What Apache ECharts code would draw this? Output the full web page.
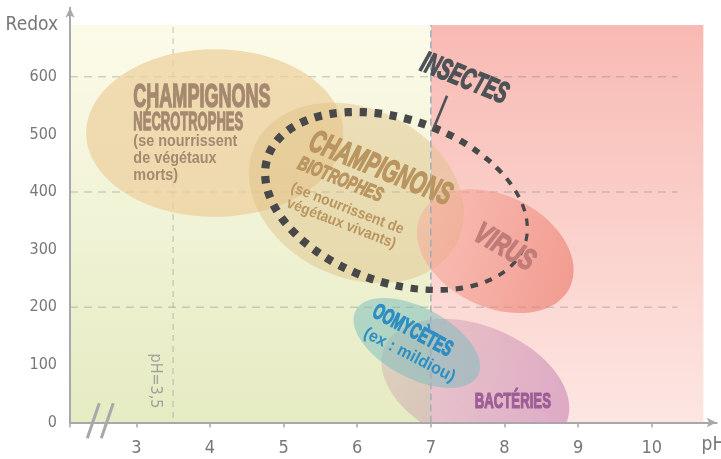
<!DOCTYPE html>
<html><head><meta charset="utf-8">
<script src="https://cdn.jsdelivr.net/npm/echarts@6/dist/echarts.min.js"></script>
<style>html,body{margin:0;padding:0;background:#fff}#c{width:721px;height:459px}</style>
</head><body><div id="c"></div>
<script>
// ---------------- data ----------------
const phTicks = [3, 4, 5, 6, 7, 8, 9, 10];
const phTickMarks = [2.1, 3, 4, 5, 6, 7, 8, 9, 10];
const redoxTicks = [0, 100, 200, 300, 400, 500, 600];
const redoxGridLines = [200, 400, 600];

const zoneNames = ['acide', 'neutre/basique'];
const zonePhMin = [2.1, 7];
const zonePhMax = [7, 10.7];
const zoneRedoxMax = [690, 690];

// organism groups : pH range, redox range, tilt of the zone (degrees)
const groupNames = ['Champignons nécrotrophes', 'Champignons biotrophes', 'Virus', 'Bactéries', 'Oomycètes'];
const groupPhMin = [2.32, 4.53, 6.81, 6.33, 5.95];
const groupPhMax = [5.81, 7.45, 8.94, 8.88, 7.67];
const groupRedoxMin = [357, 242, 190, -50, 60];
const groupRedoxMax = [648, 555, 405, 180, 216];
const groupTilt = [0, 25.6, 26, 22, 28];

// insects (dotted outline)
const insectPhRange = [4.75, 8.31];
const insectRedoxRange = [230, 539];
const insectTilt = [19];
const insectPointerPh = [7.22, 7.03];
const insectPointerRedox = [567, 508];

// reference lines
const refLinePh = [3.5, 7];

// labels
const labelTexts = ['CHAMPIGNONS', 'NÉCROTROPHES', '(se nourrissent', 'de végétaux', 'morts)',
  'CHAMPIGNONS', 'BIOTROPHES', '(se nourrissent de', 'végétaux vivants)',
  'INSECTES', 'VIRUS', 'OOMYCÈTES', '(ex : mildiou)', 'BACTÉRIES', 'pH=3,5'];
const labelPh = [2.96, 2.96, 2.96, 2.96, 2.96, 6.313, 5.77, 5.865, 5.784, 7.454, 7.997, 6.748, 6.707, 8.113, 3.258];
const labelRedox = [564, 521, 488, 458, 429, 440, 421, 371, 345, 596, 303, 159, 117, 36, 72];

// ---------------- styles ----------------
const LS = "'Liberation Sans', Arial, sans-serif";
const AX = "'DejaVu Sans Condensed', 'Liberation Sans Narrow', 'DejaVu Sans', sans-serif";
const labelKind = ['nT', 'nS', 'nB', 'nB', 'nB', 'bT', 'bS', 'bB', 'bB', 'ins', 'vir', 'oT', 'oB', 'bac', 'ref'];
const kindStyle = {
  nT: { font: 'bold 34px ' + LS, fill: '#a5896f', sx: 0.53, rot: 0, align: 'left', bold: 1.6 },
  nS: { font: 'bold 26px ' + LS, fill: '#a5896f', sx: 0.5, rot: 0, align: 'left', bold: 1.3 },
  nB: { font: 'bold 16px ' + LS, fill: '#a5896f', sx: 0.9, rot: 0, align: 'left', bold: 0 },
  bT: { font: 'italic bold 32px ' + LS, fill: '#b9955f', sx: 0.62, rot: 22, align: 'center', bold: 1.6 },
  bS: { font: 'italic bold 20px ' + LS, fill: '#b9955f', sx: 0.68, rot: 22, align: 'center', bold: 1.1 },
  bB: { font: 'bold 15px ' + LS, fill: '#b9955f', sx: 0.92, rot: 21, align: 'center', bold: 0 },
  ins: { font: 'italic bold 30px ' + LS, fill: '#4d5256', sx: 0.61, rot: 22, align: 'center', bold: 1.5 },
  vir: { font: 'italic bold 30px ' + LS, fill: '#c07c78', sx: 0.71, rot: 30, align: 'center', bold: 1.5 },
  oT: { font: 'bold 22px ' + LS, fill: '#2c8dc2', sx: 0.62, rot: 28, align: 'center', bold: 1.2 },
  oB: { font: 'bold 17px ' + LS, fill: '#2f8fc3', sx: 0.95, rot: 27, align: 'center', bold: 0 },
  bac: { font: 'bold 22px ' + LS, fill: '#9d5e96', sx: 0.6, rot: 0, align: 'center', bold: 1.2 },
  ref: { font: '16px ' + AX, fill: '#a0a29c', sx: 1, rot: 90, align: 'center', bold: 0 }
};
const G = echarts.graphic.LinearGradient;
const zoneFill = [
  new G(0, 0, 0, 1, [{ offset: 0, color: '#fcfbe9' }, { offset: 1, color: '#e5ebc2' }]),
  new G(0, 0, 0, 1, [{ offset: 0, color: '#f8bab3' }, { offset: 1, color: '#fde6e2' }])
];
const groupFill = [
  'rgba(237,207,157,0.72)',
  'rgba(222,190,130,0.45)',
  new G(0, 0, 1, 0, [{ offset: 0, color: 'rgba(246,172,158,0.5)' }, { offset: 1, color: 'rgba(234,108,92,0.55)' }]),
  new G(0, 0, 1, 0, [{ offset: 0, color: 'rgba(200,155,170,0.35)' }, { offset: 1, color: 'rgba(196,120,176,0.55)' }]),
  'rgba(120,187,188,0.5)'
];

function boxEllipse(api, x0, x1, y0, y1, tiltDeg) {
  const p1 = api.coord([x0, y1]), p2 = api.coord([x1, y0]);
  const cx = (p1[0] + p2[0]) / 2, cy = (p1[1] + p2[1]) / 2;
  const W = Math.abs(p2[0] - p1[0]) / 2, H = Math.abs(p2[1] - p1[1]) / 2;
  const t = tiltDeg * Math.PI / 180;
  const A = W * W + H * H, D = (W * W - H * H) / Math.cos(2 * t);
  return { cx, cy, a: Math.sqrt((A + D) / 2), b: Math.sqrt(Math.max((A - D) / 2, 1)), t };
}

const zoneData = zoneNames.map((n, i) => [zonePhMin[i], zonePhMax[i], 0, zoneRedoxMax[i]]);
const gridData = redoxGridLines.map(r => [2.1, 10.35, r, r]).concat([[refLinePh[0], refLinePh[0], 8, 690]]);
const ph7Data = [[refLinePh[1], refLinePh[1], 0, 690]];
const groupData = groupNames.map((n, i) => [groupPhMin[i], groupPhMax[i], groupRedoxMin[i], groupRedoxMax[i], groupTilt[i]]);
const insectData = [[insectPhRange[0], insectPhRange[1], insectRedoxRange[0], insectRedoxRange[1], insectTilt[0]]];
const pointerData = [[insectPointerPh[0], insectPointerPh[1], insectPointerRedox[0], insectPointerRedox[1]]];
const labelData = labelTexts.map((t, i) => [labelPh[i], labelRedox[i]]);
const breakData = [[2.416, 3], [2.606, 3]];

function lineItem(api, stroke, width, dash) {
  const a = api.coord([api.value(0), api.value(2)]);
  const b = api.coord([api.value(1), api.value(3)]);
  return { type: 'line', shape: { x1: a[0], y1: a[1], x2: b[0], y2: b[1] },
    style: { stroke, lineWidth: width, lineDash: dash } };
}

const option = {
  animation: false,
  grid: { left: 70, right: 4.4, top: 7.7, bottom: 36.5, containLabel: false, outerBoundsMode: 'none' },
  xAxis: {
    type: 'value', min: 2.1, max: 10.88, z: 10,
    name: 'pH', nameLocation: 'end', nameGap: -15,
    nameTextStyle: { fontFamily: AX, fontSize: 19, color: '#777', align: 'left', verticalAlign: 'top', padding: [13, 0, 0, 0] },
    axisLine: { lineStyle: { color: '#a8a8ac', width: 2 }, symbol: ['none', 'arrow'], symbolSize: [7, 10] },
    axisTick: { customValues: phTickMarks, length: 5, lineStyle: { color: '#a8a8ac', width: 1.5 } },
    axisLabel: { customValues: phTicks, margin: 17, fontFamily: AX, fontSize: 18, color: '#777' },
    splitLine: { show: false }
  },
  yAxis: {
    type: 'value', min: 0, max: 720, z: 10,
    name: 'Redox', nameLocation: 'end', nameGap: -17,
    nameTextStyle: { fontFamily: AX, fontSize: 19, color: '#777', align: 'right', verticalAlign: 'middle', padding: [0, 12, 0, 0] },
    axisLine: { lineStyle: { color: '#a8a8ac', width: 2 }, symbol: ['none', 'arrow'], symbolSize: [7, 10] },
    axisTick: { show: false },
    axisLabel: { customValues: redoxTicks, margin: 13, fontFamily: AX, fontSize: 16, color: '#777' },
    splitLine: { show: false }
  },
  series: [
    { type: 'custom', name: 'zones', z: 1, clip: true, silent: true, data: zoneData, encode: { x: [0, 1], y: [2, 3] },
      renderItem: (p, api) => {
        const a = api.coord([api.value(0), api.value(3)]), b = api.coord([api.value(1), api.value(2)]);
        return { type: 'rect', shape: { x: a[0], y: a[1], width: b[0] - a[0], height: b[1] - a[1] }, style: { fill: zoneFill[p.dataIndex] } };
      } },
    { type: 'custom', name: 'grid', z: 2, clip: true, silent: true, data: gridData, encode: { x: [0, 1], y: [2, 3] },
      renderItem: (p, api) => p.dataIndex < redoxGridLines.length
        ? lineItem(api, 'rgba(120,120,120,0.32)', 1.5, [8, 6])
        : lineItem(api, 'rgba(130,130,130,0.4)', 1.2, [6, 5]) },
    { type: 'custom', name: 'groupes', z: 3, clip: true, silent: true, data: groupData, encode: { x: [0, 1], y: [2, 3] },
      renderItem: (p, api) => {
        const e = boxEllipse(api, api.value(0), api.value(1), api.value(2), api.value(3), api.value(4));
        return { type: 'ellipse', x: e.cx, y: e.cy, rotation: -e.t, shape: { cx: 0, cy: 0, rx: e.a, ry: e.b }, style: { fill: groupFill[p.dataIndex] } };
      } },
    { type: 'custom', name: 'pH7', z: 4, clip: true, silent: true, data: ph7Data, encode: { x: [0, 1], y: [2, 3] },
      renderItem: (p, api) => lineItem(api, '#a4afbe', 1.6, [7, 4]) },
    { type: 'custom', name: 'insectes', z: 5, clip: true, silent: true, data: insectData, encode: { x: [0, 1], y: [2, 3] },
      renderItem: (p, api) => {
        const e = boxEllipse(api, api.value(0), api.value(1), api.value(2), api.value(3), api.value(4));
        const N = 2000, pts = [], cum = [0];
        const ct = Math.cos(e.t), st = Math.sin(e.t);
        for (let i = 0; i <= N; i++) {
          const g = Math.PI + 2 * Math.PI * i / N;
          const lx = e.a * Math.cos(g), ly = e.b * Math.sin(g);
          pts.push([e.cx + lx * ct - ly * st, e.cy + lx * st + ly * ct]);
          if (i > 0) cum.push(cum[i - 1] + Math.hypot(pts[i][0] - pts[i - 1][0], pts[i][1] - pts[i - 1][1]));
        }
        const per = cum[N];
        const n = Math.round(per / 15.2), pitch = per / n, len = 7.8;
        const children = [];
        let j = 0;
        for (let k = 0; k < n; k++) {
          const s0 = k * pitch + 3, s1 = s0 + len;
          const seg = [];
          while (j < N && cum[j] < s0) j++;
          let m = j;
          while (m <= N && cum[m] <= s1) { seg.push(pts[m]); m++; }
          if (seg.length < 2) continue;
          const mid = seg[Math.floor(seg.length / 2)];
          const phi = Math.atan2(mid[1] - e.cy, mid[0] - e.cx);
          const c = Math.max(0, Math.cos(phi - 15 * Math.PI / 180));
          const w = 8.2 - 5 * Math.pow(c, 1.8);
          children.push({ type: 'polyline', shape: { points: seg }, style: { stroke: '#484848', lineWidth: w, lineCap: 'butt', fill: null } });
        }
        return { type: 'group', children };
      } },
    { type: 'custom', name: 'pointer', z: 6, clip: true, silent: true, data: pointerData, encode: { x: [0, 1], y: [2, 3] },
      renderItem: (p, api) => lineItem(api, '#4d5256', 2.6, null) },
    { type: 'custom', name: 'labels', z: 7, clip: false, silent: true, data: labelData, encode: { x: 0, y: 1 },
      renderItem: (p, api) => {
        const pt = api.coord([api.value(0), api.value(1)]);
        const s = kindStyle[labelKind[p.dataIndex]];
        const style = { text: labelTexts[p.dataIndex], font: s.font, fill: s.fill, align: s.align, verticalAlign: 'middle' };
        if (s.bold) { style.stroke = s.fill; style.lineWidth = s.bold; }
        return { type: 'text', x: pt[0], y: pt[1], rotation: -s.rot * Math.PI / 180, scaleX: s.sx, scaleY: 1, style };
      } },
    { type: 'custom', name: 'coupure', z: 20, clip: false, silent: true, data: breakData, encode: { x: 0, y: 1 },
      renderItem: (p, api) => {
        const c = api.coord([api.value(0), api.value(1)]);
        return { type: 'line', shape: { x1: c[0] - 6, y1: c[1] + 17.5, x2: c[0] + 6, y2: c[1] - 17.5 }, style: { stroke: '#a8a8ac', lineWidth: 3 } };
      } }
  ]
};
const chart = echarts.init(document.getElementById('c'));
chart.setOption(option);
</script></body></html>
